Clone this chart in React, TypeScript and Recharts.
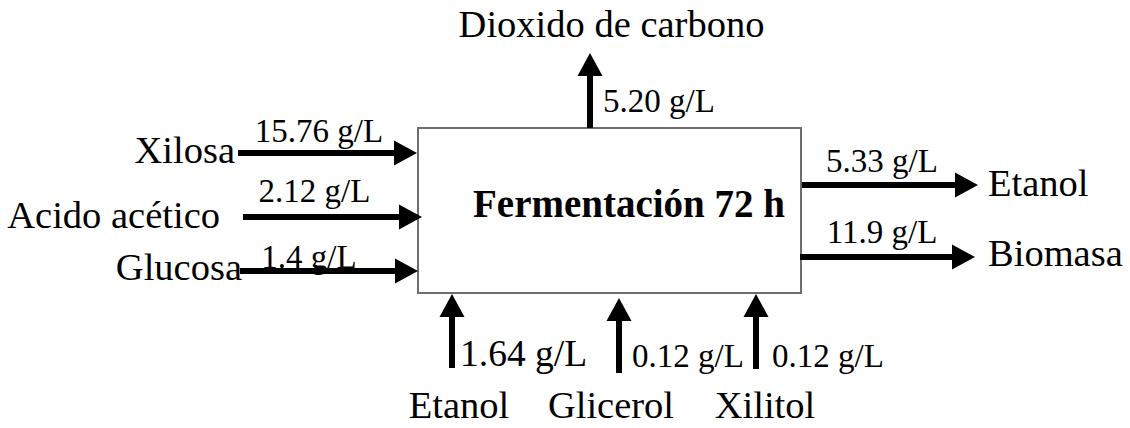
import React from 'react';
import { ComposedChart, XAxis, YAxis, ReferenceArea, ReferenceLine } from 'recharts';

// ── Flujos del proceso (g/L) ──────────────────────────────
const INPUT_NAMES = ['Xilosa', 'Acido acético', 'Glucosa'];
const INPUT_VALUES = ['15.76', '2.12', '1.4'];

const OUTPUT_NAMES = ['Etanol', 'Biomasa'];
const OUTPUT_VALUES = ['5.33', '11.9'];

const GAS_NAMES = ['Dioxido de carbono'];
const GAS_VALUES = ['5.20'];

const BYPRODUCT_NAMES = ['Etanol', 'Glicerol', 'Xilitol'];
const BYPRODUCT_VALUES = ['1.64', '0.12', '0.12'];

const PROCESS_LABEL = 'Fermentación 72 h';
const UNIT = 'g/L';

// ── Layout (diagram coordinates) ───────────────────────────
const W = 1130;
const H = 428;
const FONT = "'Liberation Serif', 'Times New Roman', serif";
const BOX = { x1: 418, x2: 801, y1: 128, y2: 293 };
const NAME_SIZE = 38.5;
const VALUE_SIZE = 33;

const HEAD_LEN = 23;
const HEAD_HALF = 12.5;
const SHAFT = 6;

type Txt = { text: string; dx: number; dy: number; anchor: 'start' | 'middle' | 'end'; size: number };
type Arrow = { x1: number; y1: number; x2: number; y2: number; texts: Txt[] };

// name / value offsets are [dx, dy] from the arrow start
const LEFT = [
  { x1: 238, x2: 417, y: 153, name: [-3, 10], value: [81, -11] },
  { x1: 243, x2: 422, y: 217, name: [-23, 11], value: [71.5, -15] },
  { x1: 240, x2: 418, y: 271, name: [2, 9], value: [69, -3] },
];
const RIGHT = [
  { x1: 802, x2: 978, y: 185, name: [186, 11], value: [80, -13] },
  { x1: 800, x2: 975, y: 257, name: [188, 9], value: [82, -14] },
];
const TOP = [{ x: 590, y1: 128, y2: 53, name: [21.5, -91], value: [13, -16] }];
const BOTTOM = [
  { x: 452, y1: 368, y2: 294, name: [7, 50], value: [8, -2], size: 37.5 },
  { x: 619, y1: 373, y2: 298, name: [-8, 45], value: [13, -6], size: 33 },
  { x: 756, y1: 369, y2: 294, name: [9, 49], value: [16, -2], size: 33 },
];

const label = (v: string) => `${v} ${UNIT}`;

const ARROWS: Arrow[] = [
  ...LEFT.map((r, i) => ({
    x1: r.x1, y1: r.y, x2: r.x2, y2: r.y,
    texts: [
      { text: INPUT_NAMES[i], dx: r.name[0], dy: r.name[1], anchor: 'end' as const, size: NAME_SIZE },
      { text: label(INPUT_VALUES[i]), dx: r.value[0], dy: r.value[1], anchor: 'middle' as const, size: VALUE_SIZE },
    ],
  })),
  ...RIGHT.map((r, i) => ({
    x1: r.x1, y1: r.y, x2: r.x2, y2: r.y,
    texts: [
      { text: OUTPUT_NAMES[i], dx: r.name[0], dy: r.name[1], anchor: 'start' as const, size: NAME_SIZE },
      { text: label(OUTPUT_VALUES[i]), dx: r.value[0], dy: r.value[1], anchor: 'middle' as const, size: VALUE_SIZE },
    ],
  })),
  ...TOP.map((r, i) => ({
    x1: r.x, y1: r.y1, x2: r.x, y2: r.y2,
    texts: [
      { text: GAS_NAMES[i], dx: r.name[0], dy: r.name[1], anchor: 'middle' as const, size: NAME_SIZE },
      { text: label(GAS_VALUES[i]), dx: r.value[0], dy: r.value[1], anchor: 'start' as const, size: VALUE_SIZE },
    ],
  })),
  ...BOTTOM.map((r, i) => ({
    x1: r.x, y1: r.y1, x2: r.x, y2: r.y2,
    texts: [
      { text: BYPRODUCT_NAMES[i], dx: r.name[0], dy: r.name[1], anchor: 'middle' as const, size: NAME_SIZE },
      { text: label(BYPRODUCT_VALUES[i]), dx: r.value[0], dy: r.value[1], anchor: 'start' as const, size: r.size },
    ],
  })),
];

// shaft + head + its texts, placed from the line end points given by the scales
const arrowShape = (texts: Txt[]) => (p: any) => {
  const { x1, y1, x2, y2 } = p;
  const len = Math.hypot(x2 - x1, y2 - y1) || 1;
  const ux = (x2 - x1) / len;
  const uy = (y2 - y1) / len;
  const bx = x2 - ux * HEAD_LEN;
  const by = y2 - uy * HEAD_LEN;
  const nx = -uy;
  const ny = ux;
  return (
    <g>
      <line x1={x1} y1={y1} x2={bx + ux} y2={by + uy} stroke="#000" strokeWidth={SHAFT} />
      <polygon
        points={`${x2},${y2} ${bx + nx * HEAD_HALF},${by + ny * HEAD_HALF} ${bx - nx * HEAD_HALF},${by - ny * HEAD_HALF}`}
        fill="#000"
      />
      {texts.map((t, k) => (
        <text key={k} x={x1 + t.dx} y={y1 + t.dy} textAnchor={t.anchor}
          fontFamily={FONT} fontSize={t.size} fill="#000">
          {t.text}
        </text>
      ))}
    </g>
  );
};

const boxShape = (p: any) => (
  <g>
    <rect x={p.x} y={p.y} width={p.width} height={p.height} fill="#fff" stroke="#6e6e6e" strokeWidth={2} />
    <text x={p.x + 55} y={p.y + 89} fontFamily={FONT} fontSize={39} fontWeight="bold" fill="#000">
      {PROCESS_LABEL}
    </text>
  </g>
);

export default function App() {
  return (
    <div style={{ position: 'absolute', left: 0, top: 0, width: W, height: H, background: '#fff' }}>
      <ComposedChart width={W} height={H} margin={{ top: 0, right: 0, bottom: 0, left: 0 }}>
        <XAxis type="number" dataKey="x" domain={[0, W]} allowDataOverflow hide />
        <YAxis type="number" dataKey="y" domain={[0, H]} allowDataOverflow reversed hide />
        <ReferenceArea x1={BOX.x1} x2={BOX.x2} y1={BOX.y1} y2={BOX.y2} ifOverflow="visible" shape={boxShape} />
        {ARROWS.map((a, i) => (
          <ReferenceLine
            key={i}
            segment={[{ x: a.x1, y: a.y1 }, { x: a.x2, y: a.y2 }]}
            ifOverflow="visible"
            shape={arrowShape(a.texts)}
          />
        ))}
      </ComposedChart>
    </div>
  );
}
